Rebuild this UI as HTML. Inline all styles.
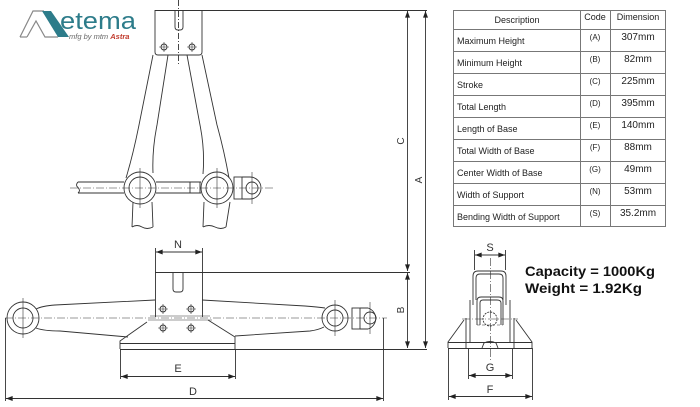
<!DOCTYPE html>
<html><head><meta charset="utf-8"><style>
html,body{margin:0;padding:0;background:#fff;}
svg{display:block;}
text{font-family:"Liberation Sans",Arial,sans-serif;}
</style></head><body>
<svg width="700" height="407" viewBox="0 0 700 407" xmlns="http://www.w3.org/2000/svg">
<defs>
<marker id="ar" viewBox="0 0 8 6" refX="8" refY="3" markerWidth="7" markerHeight="5" markerUnits="userSpaceOnUse" orient="auto-start-reverse"><path d="M0,0 L8,3 L0,6 z" fill="#222"/></marker>
</defs>
<rect width="700" height="407" fill="#fff"/>

<!-- LOGO -->
<g>
<path d="M20,37 L33,11 L44,11" fill="none" stroke="#888" stroke-width="1.2"/>
<path d="M27,37 L36,21 L45,37 L58,37" fill="none" stroke="#888" stroke-width="1.2"/>
<path d="M20,37 L27,37" stroke="#888" stroke-width="1.2"/>
<polygon points="42,11 51,11 69,37 58,37" fill="#2d7c8a"/>
<text x="60" y="29" font-size="24" fill="#2d7c8a" textLength="76" lengthAdjust="spacingAndGlyphs">etema</text>
<text x="69" y="39" font-size="7.5" font-style="italic" fill="#666">mfg by mtm <tspan font-weight="bold" fill="#c0392b">Astra</tspan></text>
</g>

<!-- TABLE -->
<g stroke="#777" stroke-width="1" fill="none">
<rect x="453.5" y="10.5" width="212" height="216"/>
<line x1="580.5" y1="10" x2="580.5" y2="227"/>
<line x1="610.5" y1="10" x2="610.5" y2="227"/>
<line x1="453" y1="29.5" x2="666" y2="29.5"/>
<line x1="453" y1="51.5" x2="666" y2="51.5"/>
<line x1="453" y1="73.5" x2="666" y2="73.5"/>
<line x1="453" y1="95.5" x2="666" y2="95.5"/>
<line x1="453" y1="117.5" x2="666" y2="117.5"/>
<line x1="453" y1="139.5" x2="666" y2="139.5"/>
<line x1="453" y1="161.5" x2="666" y2="161.5"/>
<line x1="453" y1="183.5" x2="666" y2="183.5"/>
<line x1="453" y1="205.5" x2="666" y2="205.5"/>
</g>
<g fill="#222" font-size="9">
<text x="517" y="23" text-anchor="middle">Description</text>
<text x="595" y="20" text-anchor="middle">Code</text>
<text x="638" y="20" text-anchor="middle">Dimension</text>
<text x="457" y="44">Maximum Height</text>
<text x="457" y="66">Minimum Height</text>
<text x="457" y="88">Stroke</text>
<text x="457" y="110">Total Length</text>
<text x="457" y="132">Length of Base</text>
<text x="457" y="154">Total Width of Base</text>
<text x="457" y="176">Center Width of Base</text>
<text x="457" y="198">Width of Support</text>
<text x="457" y="220">Bending Width of Support</text>
</g>
<g fill="#222" font-size="8" text-anchor="middle">
<text x="595" y="40">(A)</text>
<text x="595" y="62">(B)</text>
<text x="595" y="84">(C)</text>
<text x="595" y="106">(D)</text>
<text x="595" y="128">(E)</text>
<text x="595" y="150">(F)</text>
<text x="595" y="172">(G)</text>
<text x="595" y="194">(N)</text>
<text x="595" y="216">(S)</text>
</g>
<g fill="#222" font-size="10" text-anchor="middle">
<text x="638" y="40">307mm</text>
<text x="638" y="62">82mm</text>
<text x="638" y="84">225mm</text>
<text x="638" y="106">395mm</text>
<text x="638" y="128">140mm</text>
<text x="638" y="150">88mm</text>
<text x="638" y="172">49mm</text>
<text x="638" y="194">53mm</text>
<text x="638" y="216">35.2mm</text>
</g>

<!-- TOP JACK (extended) -->
<g stroke="#333" stroke-width="0.9" fill="none">
<line x1="155" y1="10.5" x2="427" y2="10.5"/>
<path d="M155,10 L155,52 Q155,55 158,55 L199,55 Q202,55 202,52 L202,10"/>
<path d="M175,10 L175,27 Q175,30 178,30 L180,30 Q183,30 183,27 L183,10"/>
<line x1="178.5" y1="0" x2="178.5" y2="64" stroke-dasharray="6,2,1,2"/>
<circle cx="164" cy="47" r="3"/><circle cx="192" cy="47" r="3"/>
<path d="M159,47 h10 M164,42 v10 M187,47 h10 M192,42 v10" stroke-width="0.6"/>
<path d="M153,55 L139,125 Q133,155 126,178"/>
<path d="M168,55 L157,125 Q152,150 153,173"/>
<path d="M187,55 L200,125 Q205,150 203,174"/>
<path d="M202,55 L217,125 Q224,150 229,178"/>
<circle cx="140" cy="188" r="16"/><circle cx="140" cy="188" r="11"/>
<circle cx="217" cy="188" r="16"/><circle cx="217" cy="188" r="11"/>
<path d="M140,168 v40 M217,168 v40" stroke-width="0.6"/>
<path d="M133,202 L132,227 M152,202 L153,227 M204,202 L203,227 M230,202 L226,227"/>
<path d="M132,227 q5,-3 10,0 t11,0 M203,227 q6,-3 12,0 t11,0"/>
<path d="M78,182 L124,182 M78,193 L124,193 M156,182 L201,182 M156,193 L201,193"/>
<path d="M78,182 q-3,3 0,5.5 q3,3 0,5.5"/>
<path d="M190,182 L190,193 M200,182 L200,193"/>
<rect x="234" y="177" width="8" height="22"/>
<path d="M242,177 L250,177 A11,11 0 0 1 250,199 L242,199"/>
<circle cx="252" cy="188" r="6"/>
<path d="M252,172 v32" stroke-width="0.6"/>
<line x1="70" y1="188" x2="273" y2="188" stroke-width="0.6" stroke-dasharray="8,2,1,2"/>
</g>

<!-- RIGHT DIMENSIONS A, B, C -->
<g stroke="#333" stroke-width="0.9" fill="none">
<line x1="155" y1="272.5" x2="410" y2="272.5"/>
<line x1="120" y1="349.5" x2="427" y2="349.5"/>
<line x1="407.5" y1="11" x2="407.5" y2="271" marker-start="url(#ar)" marker-end="url(#ar)"/>
<line x1="407.5" y1="273" x2="407.5" y2="348" marker-start="url(#ar)" marker-end="url(#ar)"/>
<line x1="425.5" y1="11" x2="425.5" y2="348" marker-start="url(#ar)" marker-end="url(#ar)"/>
</g>
<g fill="#333" font-size="10" text-anchor="middle">
<text transform="translate(404,141) rotate(-90)">C</text>
<text transform="translate(422,180) rotate(-90)">A</text>
<text transform="translate(404,310) rotate(-90)">B</text>
</g>

<!-- BOTTOM JACK (collapsed) -->
<g stroke="#333" stroke-width="0.9" fill="none">
<line x1="155.5" y1="248" x2="155.5" y2="272"/>
<line x1="202.5" y1="248" x2="202.5" y2="272"/>
<line x1="156" y1="252" x2="202" y2="252" marker-start="url(#ar)" marker-end="url(#ar)"/>
<path d="M155.5,272 L155.5,317 M202.5,272 L202.5,317"/>
<path d="M173,272 L173,289 Q173,292 176,292 L180,292 Q183,292 183,289 L183,272"/>
<circle cx="163" cy="309" r="3"/><circle cx="191" cy="309" r="3"/>
<circle cx="163" cy="328" r="3"/><circle cx="191" cy="328" r="3"/>
<path d="M158,309 h10 M163,304 v10 M186,309 h10 M191,304 v10 M158,328 h10 M163,323 v10 M186,328 h10 M191,323 v10" stroke-width="0.6"/>
<circle cx="23" cy="318" r="16"/><circle cx="23" cy="318" r="10"/>
<path d="M23,298 v40" stroke-width="0.6"/>
<path d="M36,309 Q42,306 55,305 L155,300"/>
<path d="M36,328 Q44,331 60,331 L128,337"/>
<path d="M202,300 L305,306 Q318,307 325,308"/>
<path d="M235,336 L310,331 Q318,330 324,327"/>
<circle cx="335" cy="318" r="13"/><circle cx="335" cy="318" r="8"/>
<path d="M335,300 v36" stroke-width="0.6"/>
<rect x="352" y="308" width="8" height="21"/>
<path d="M360,308 L368,308 A11,11 0 0 1 368,329 L360,329"/>
<circle cx="370" cy="318" r="6"/>
<path d="M370,302 v32" stroke-width="0.6"/>
<path d="M150,316 L210,316 M148,320 L212,320" stroke-width="0.6"/>
<path d="M147,322 L120,341 L120,349 M208,320 L235,337 L235,349"/>
<line x1="120" y1="343.5" x2="235" y2="343.5"/>
<line x1="5" y1="318" x2="387" y2="318" stroke-width="0.6" stroke-dasharray="8,2,1,2"/>
<line x1="120.5" y1="349" x2="120.5" y2="379"/>
<line x1="235.5" y1="349" x2="235.5" y2="379"/>
<line x1="121" y1="376.5" x2="235" y2="376.5" marker-start="url(#ar)" marker-end="url(#ar)"/>
<line x1="5.5" y1="318" x2="5.5" y2="401"/>
<line x1="383.5" y1="318" x2="383.5" y2="401"/>
<line x1="6" y1="398.5" x2="383" y2="398.5" marker-start="url(#ar)" marker-end="url(#ar)"/>
</g>
<g fill="#333" font-size="11" text-anchor="middle">
<text x="178" y="248">N</text>
<text x="178" y="372">E</text>
<text x="193" y="395">D</text>
</g>

<!-- SIDE VIEW -->
<g stroke="#333" stroke-width="0.9" fill="none">
<line x1="474.5" y1="250" x2="474.5" y2="270"/>
<line x1="505.5" y1="250" x2="505.5" y2="270"/>
<line x1="475" y1="255" x2="505" y2="255" marker-start="url(#ar)" marker-end="url(#ar)"/>
<path d="M473,305 L473,276 Q473,271 478,271 L501,271 Q506,271 506,276 L506,305"/>
<path d="M476,300 L476,278 Q476,274 480,274 L499,274 Q503,274 503,278 L503,300"/>
<path d="M477,325 L477,301 Q477,297 481,297 L499,297 Q503,297 503,301 L503,325"/>
<path d="M480,325 L480,303 Q480,300 483,300 L497,300 Q501,300 501,303 L501,325"/>
<path d="M470,300 L470,342 M510,300 L510,342 M466,318 L466,348 M514,318 L514,348"/>
<path d="M477,325 L503,325" stroke-width="0.6" stroke-dasharray="3,2"/>
<circle cx="490" cy="319" r="7" stroke-dasharray="2,1"/>
<line x1="490.5" y1="258" x2="490.5" y2="360" stroke-width="0.6" stroke-dasharray="8,2,1,2"/>
<line x1="462" y1="319" x2="518" y2="319" stroke-width="0.6" stroke-dasharray="8,2,1,2"/>
<path d="M482,348 L484,343 Q490,340 496,343 L498,348"/>
<path d="M448,348 L448,342 L464,320 M532,348 L532,342 L516,320"/>
<line x1="448" y1="342.5" x2="532" y2="342.5"/>
<line x1="448" y1="348.5" x2="532" y2="348.5"/>
<line x1="468.5" y1="348" x2="468.5" y2="379"/>
<line x1="512.5" y1="348" x2="512.5" y2="379"/>
<line x1="469" y1="375.5" x2="512" y2="375.5" marker-start="url(#ar)" marker-end="url(#ar)"/>
<line x1="448.5" y1="348" x2="448.5" y2="400"/>
<line x1="532.5" y1="348" x2="532.5" y2="400"/>
<line x1="449" y1="396.5" x2="532" y2="396.5" marker-start="url(#ar)" marker-end="url(#ar)"/>
</g>
<g fill="#333" font-size="11" text-anchor="middle">
<text x="490" y="251">S</text>
<text x="490" y="371">G</text>
<text x="490" y="393">F</text>
</g>

<!-- CAPACITY TEXT -->
<g fill="#111" font-weight="bold" font-size="14">
<text x="525" y="276" font-family="'DejaVu Sans',sans-serif" textLength="130" lengthAdjust="spacingAndGlyphs">Capacity = 1000Kg</text>
<text x="525" y="293" font-family="'DejaVu Sans',sans-serif" textLength="117" lengthAdjust="spacingAndGlyphs">Weight = 1.92Kg</text>
</g>
</svg>
</body></html>
